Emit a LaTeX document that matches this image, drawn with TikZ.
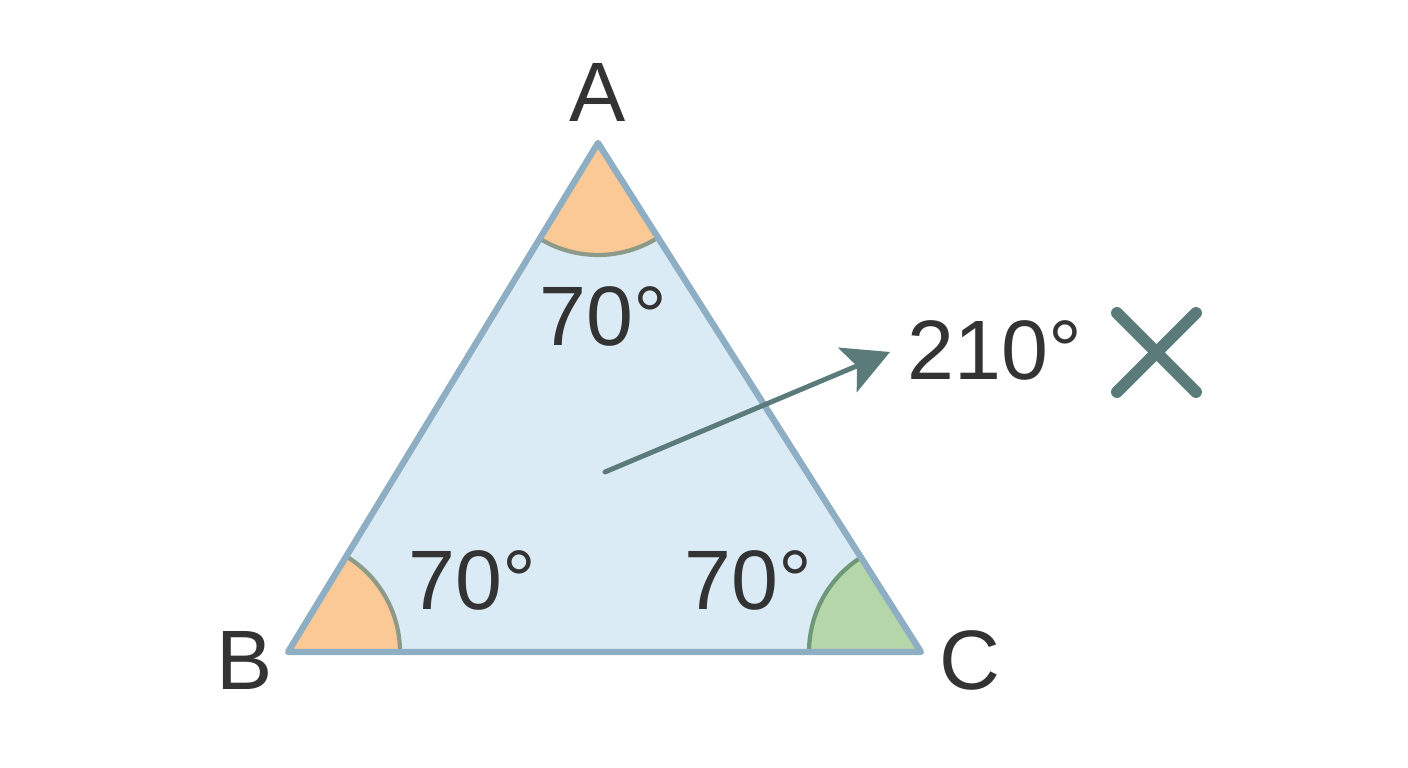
\documentclass[tikz,border=0pt]{standalone}
\usepackage{fontspec}
\setmainfont{Liberation Sans}
\usetikzlibrary{arrows.meta}
\definecolor{triline}{HTML}{8EAEC4}
\definecolor{trifill}{HTML}{DAEBF5}
\definecolor{wedgeorange}{HTML}{FBC995}
\definecolor{wedgegreen}{HTML}{B5D6A9}
\definecolor{arcgray}{HTML}{8E9A88}
\definecolor{arcgreen}{HTML}{6F9878}
\definecolor{pointer}{HTML}{5B7B7B}
\definecolor{ink}{HTML}{333333}
\tikzset{
	lbl/.style={text=ink, font=\fontsize{24}{28}\selectfont, inner sep=0pt},
	anglearc/.style={line width=1.2pt},
}

\begin{document}
\begin{tikzpicture}
	\useasboundingbox (0,0) rectangle (14.08,7.68);
	\coordinate (A) at (5.98,6.25);
	\coordinate (B) at (2.88,1.16);
	\coordinate (C) at (9.21,1.16);
	% triangle
	\fill[trifill] (A) -- (B) -- (C) -- cycle;
	% angle wedges
	\fill[wedgeorange] (A) -- ++(238.66:1.12) arc[start angle=238.66, end angle=302.4, radius=1.12] -- cycle;
	\draw[anglearc, arcgray] (A) ++(238.66:1.12) arc[start angle=238.66, end angle=302.4, radius=1.12];
	\fill[wedgeorange] (B) -- ++(0:1.12) arc[start angle=0, end angle=58.66, radius=1.12] -- cycle;
	\draw[anglearc, arcgray] (B) ++(0:1.12) arc[start angle=0, end angle=58.66, radius=1.12];
	\fill[wedgegreen] (C) -- ++(180:1.12) arc[start angle=180, end angle=122.4, radius=1.12] -- cycle;
	\draw[anglearc, arcgreen] (C) ++(180:1.12) arc[start angle=180, end angle=122.4, radius=1.12];
	\draw[triline, line width=1.8pt, line join=round] (A) -- (B) -- (C) -- cycle;
	% vertex and angle labels
	\node[lbl] (labA) at (5.98,6.76) {A};
	\node[lbl] (labB) at (2.45,1.08) {B};
	\node[lbl] (labC) at (9.70,1.08) {C};
	\node[lbl] (angA) at (6.03,4.52) {70°};
	\node[lbl] (angB) at (4.72,1.88) {70°};
	\node[lbl] (angC) at (7.48,1.88) {70°};
	% outward arrow and the wrong sum
	\coordinate (ctr) at (6.05,2.96);
	\coordinate (tip) at (8.90,4.16);
	\draw[pointer, line width=1.4pt, line cap=round, -{Stealth[length=4.6mm, width=4.8mm, inset=1mm]}] (ctr) -- (tip);
	\node[lbl] (sum) at (9.95,4.18) {210°};
	\draw[pointer, line width=3.4pt, line cap=round] (11.17,4.55) -- (11.96,3.76) (11.96,4.55) -- (11.17,3.76);
\end{tikzpicture}
\end{document}
